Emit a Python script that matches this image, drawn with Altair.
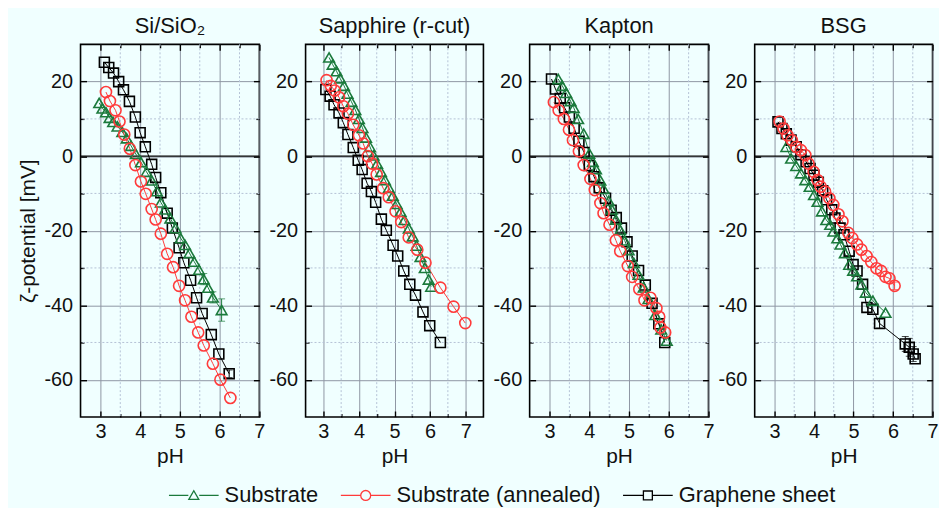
import altair as alt
import pandas as pd

FONT = "Liberation Sans"

PANEL_TITLES = ["Si/SiO₂", "Sapphire (r-cut)", "Kapton", "BSG"]
PANEL_XMAX = [7.0, 7.5, 7.0, 7.0]
PANEL_WIDTH = [180, 179, 180, 179]
SERIES = ["Substrate", "Substrate (annealed)", "Graphene sheet"]
COLORS = ["#1b7a3c", "#ff3b3b", "#000000"]
SHAPES = ["triangle-up", "circle", "square"]
SIZES = [115, 125, 100]
LEGEND_PATHS = [
    "M-5,0H-1.1M1.1,0H5M-1,0.8L0,-0.95L1,0.8Z",
    "M-5,0H-1M1,0H5M1,0A1,1 0 1,1 -1,0A1,1 0 1,1 1,0Z",
    "M-5,0H-0.9M0.9,0H5M-0.9,-0.9H0.9V0.9H-0.9Z",
]

X_TICKS = [3, 4, 5, 6, 7]
X_MINOR = [3.5, 4.5, 5.5, 6.5]
Y_TICKS = [20, 0, -20, -40, -60]
Y_MINOR = [10, -10, -30, -50]
ZERO = [0]

# ---------------- Si/SiO2 ----------------
si_sub_ph = [2.97, 3.05, 3.14, 3.23, 3.32, 3.43, 3.55, 3.66, 3.77, 3.89, 4.02, 4.16, 4.29, 4.42,
             4.52, 4.63, 4.76, 4.89, 5.02, 5.13, 5.24, 5.36, 5.48, 5.60, 5.71, 5.83, 6.05]
si_sub_z = [14.3, 12.8, 11.8, 10.3, 9.2, 8.0, 6.5, 4.8, 2.8, 0.6, -1.6, -4.2, -6.5, -9.4,
            -12.4, -14.3, -16.7, -19.3, -22.0, -23.8, -26.0, -28.3, -30.5, -33.0, -35.3, -37.9, -41.3]
si_ann_ph = [3.14, 3.24, 3.38, 3.48, 3.60, 3.74, 3.88, 4.02, 4.14, 4.29, 4.39, 4.52, 4.68, 4.83,
             4.98, 5.13, 5.29, 5.46, 5.60, 5.83, 6.02, 6.27]
si_ann_z = [17.2, 14.8, 12.3, 9.3, 5.8, 2.0, -2.4, -6.8, -10.1, -14.2, -17.0, -20.8, -26.2, -29.8,
            -34.8, -38.7, -43.1, -47.3, -50.8, -55.7, -60.0, -64.9]
si_gr_ph = [3.10, 3.21, 3.33, 3.46, 3.58, 3.73, 3.88, 4.00, 4.13, 4.29, 4.39, 4.52, 4.68, 4.81,
            4.98, 5.10, 5.27, 5.42, 5.56, 5.79, 5.98, 6.24]
si_gr_z = [25.2, 23.8, 22.3, 20.0, 17.8, 14.7, 10.5, 6.3, 2.5, -2.2, -5.7, -9.8, -15.3, -19.3,
           -24.6, -28.6, -33.3, -38.0, -42.2, -47.9, -53.1, -58.4]

# ---------------- Sapphire (r-cut) ----------------
sap_sub_ph = [3.16, 3.26, 3.37, 3.47, 3.58, 3.68, 3.79, 3.90, 4.00, 4.10, 4.20, 4.31, 4.41, 4.51,
              4.62, 4.73, 4.84, 4.95, 5.06, 5.17, 5.28, 5.40, 5.51, 5.62, 5.73, 5.85, 5.96, 6.03]
sap_sub_z = [26.5, 24.6, 22.8, 20.9, 18.9, 16.8, 14.6, 12.4, 10.0, 7.6, 5.0, 2.5, 0.2, -2.0,
             -4.2, -6.4, -8.5, -10.6, -12.8, -14.9, -17.1, -19.4, -21.5, -24.0, -27.0, -30.0, -33.1, -35.0]
sap_ann_ph = [3.09, 3.21, 3.32, 3.44, 3.56, 3.69, 3.84, 4.00, 4.12, 4.25, 4.37, 4.50, 4.68, 4.84,
              5.03, 5.19, 5.40, 5.64, 5.87, 6.29, 6.66, 6.99]
sap_ann_z = [20.4, 18.9, 17.6, 15.8, 13.4, 11.4, 8.4, 5.6, 3.4, 0.0, -2.0, -4.9, -8.6, -11.0,
             -14.8, -17.7, -21.8, -25.1, -28.6, -35.3, -40.4, -44.8]
sap_gr_ph = [3.07, 3.19, 3.30, 3.44, 3.56, 3.69, 3.84, 3.98, 4.09, 4.23, 4.35, 4.47, 4.63, 4.77,
             4.96, 5.09, 5.26, 5.43, 5.59, 5.80, 5.99, 6.29]
sap_gr_z = [17.9, 16.1, 13.8, 11.6, 9.0, 5.8, 2.3, -1.1, -3.6, -7.3, -9.5, -12.4, -16.9, -19.9,
            -23.9, -26.8, -30.8, -34.4, -37.3, -41.8, -45.5, -50.0]

# ---------------- Kapton ----------------
kap_sub_ph = [3.22, 3.32, 3.42, 3.53, 3.61, 3.72, 3.86, 4.00, 4.09, 4.17, 4.28, 4.36, 4.49, 4.57,
              4.67, 4.78, 4.89, 4.99, 5.12, 5.24, 5.37, 5.49, 5.66, 5.81, 5.95]
kap_sub_z = [20.7, 18.9, 17.0, 14.8, 13.0, 10.0, 6.0, 0.7, -1.5, -3.5, -6.5, -8.8, -12.0, -14.3,
             -17.0, -19.8, -22.6, -25.2, -28.6, -31.8, -35.2, -38.3, -42.6, -46.5, -49.5]
kap_ann_ph = [3.11, 3.23, 3.36, 3.49, 3.59, 3.74, 3.86, 4.03, 4.14, 4.28, 4.36, 4.51, 4.67, 4.78,
              4.97, 5.08, 5.26, 5.39, 5.54, 5.69, 5.76, 5.79, 5.91]
kap_ann_z = [14.5, 12.3, 10.0, 7.1, 4.3, 1.3, -2.4, -6.1, -9.1, -12.6, -15.3, -18.4, -22.6, -25.5,
             -29.5, -32.4, -35.7, -38.7, -38.0, -40.8, -43.1, -46.0, -47.3]
kap_gr_ph = [3.05, 3.15, 3.27, 3.38, 3.50, 3.62, 3.74, 3.87, 4.00, 4.12, 4.25, 4.41, 4.55, 4.68,
             4.81, 4.95, 5.08, 5.24, 5.41, 5.58, 5.75, 5.90]
kap_gr_z = [20.7, 18.0, 15.5, 13.0, 10.5, 7.5, 4.0, 1.0, -2.5, -5.5, -8.5, -11.3, -14.5, -16.5,
            -19.3, -23.0, -26.8, -30.7, -34.6, -39.5, -45.0, -50.0]

# ---------------- BSG ----------------
bsg_sub_ph = [3.30, 3.42, 3.55, 3.67, 3.78, 3.89, 4.00, 4.09, 4.20, 4.31, 4.41, 4.49, 4.59, 4.67,
              4.78, 4.89, 4.99, 5.09, 5.20, 5.31, 5.49, 5.81]
bsg_sub_z = [2.5, -0.6, -2.6, -4.6, -6.4, -8.2, -10.4, -12.2, -14.8, -17.1, -18.4, -20.2, -22.0, -23.7,
             -26.0, -29.1, -30.7, -32.2, -34.4, -36.6, -38.8, -42.0]
bsg_ann_ph = [3.13, 3.23, 3.33, 3.44, 3.55, 3.67, 3.78, 3.86, 3.99, 4.09, 4.17, 4.28, 4.39, 4.49,
              4.62, 4.72, 4.87, 4.97, 5.09, 5.20, 5.33, 5.45, 5.58, 5.70, 5.81, 5.91, 6.04]
bsg_ann_z = [9.3, 7.4, 5.6, 4.3, 2.5, 1.6, 0.3, -2.0, -4.2, -6.4, -8.2, -9.5, -11.3, -13.1,
             -15.6, -17.5, -20.6, -22.0, -23.7, -25.1, -26.8, -28.4, -30.1, -30.8, -32.4, -32.8, -34.8]
bsg_gr_ph = [3.09, 3.19, 3.30, 3.42, 3.55, 3.67, 3.80, 3.90, 4.00, 4.11, 4.22, 4.32, 4.45, 4.53,
             4.66, 4.76, 4.89, 4.99, 5.09, 5.23, 5.34, 5.49, 5.66, 6.31, 6.41, 6.51, 6.56]
bsg_gr_z = [9.2, 7.4, 6.0, 4.3, 2.5, 0.4, -1.5, -3.3, -5.1, -7.0, -9.3, -11.7, -14.4, -16.6,
            -19.3, -21.1, -25.5, -29.1, -30.8, -34.4, -40.6, -41.1, -44.9, -50.4, -51.3, -53.1, -54.4]

# ---------------- visible error bars ----------------
err_panel = ["Si/SiO₂", "Si/SiO₂", "Si/SiO₂", "Si/SiO₂", "BSG", "BSG", "BSG", "BSG", "BSG"]
err_series = ["Substrate", "Substrate", "Substrate", "Graphene sheet",
              "Graphene sheet", "Graphene sheet", "Graphene sheet", "Graphene sheet", "Substrate (annealed)"]
err_ph = [5.60, 5.83, 6.05, 6.24, 5.66, 6.31, 6.41, 6.51, 6.04]
err_z = [-33.0, -37.9, -41.3, -58.4, -44.9, -50.4, -51.3, -53.1, -34.8]
err_e = [1.5, 1.5, 3.0, 1.0, 1.2, 2.0, 2.4, 2.0, 1.0]

PANEL_DATA = [
    [(si_sub_ph, si_sub_z), (si_ann_ph, si_ann_z), (si_gr_ph, si_gr_z)],
    [(sap_sub_ph, sap_sub_z), (sap_ann_ph, sap_ann_z), (sap_gr_ph, sap_gr_z)],
    [(kap_sub_ph, kap_sub_z), (kap_ann_ph, kap_ann_z), (kap_gr_ph, kap_gr_z)],
    [(bsg_sub_ph, bsg_sub_z), (bsg_ann_ph, bsg_ann_z), (bsg_gr_ph, bsg_gr_z)],
]

rows = []
for title, series_list in zip(PANEL_TITLES, PANEL_DATA):
    for sname, (phs, zs) in zip(SERIES, series_list):
        for i, (p, z) in enumerate(zip(phs, zs)):
            rows.append({"panel": title, "series": sname, "pH": p, "zeta": z, "idx": i})
df = pd.DataFrame(rows)
err_df = pd.DataFrame({"panel": err_panel, "series": err_series, "pH": err_ph,
                       "zeta": err_z, "err": err_e})

GRID = "#8e96a3"
MINOR = "#b4c2d6"
TXT = "#111111"
LABEL_EXPR = "datum.value < 0 ? '-' + abs(datum.value) : '' + datum.value"


def tick_axis(orient, values, length):
    return alt.Axis(orient=orient, offset=-length, values=values, tickSize=length,
                    ticks=True, tickColor="#000000", tickWidth=1.4, labels=False,
                    domain=False, grid=False, title=None)


def make_panel(k):
    title = PANEL_TITLES[k]
    d = df[df.panel == title]
    e = err_df[err_df.panel == title]
    xs = alt.Scale(domain=[2.5, PANEL_XMAX[k]], nice=False, zero=False)
    ys = alt.Scale(domain=[-70, 30], nice=False, zero=False)
    xax = alt.Axis(orient="bottom", values=X_TICKS, title="pH", grid=True, ticks=False, domain=False,
                   gridColor=GRID, gridWidth=1, labelFontSize=20, titleFontSize=21,
                   labelPadding=5, titlePadding=4, labelColor=TXT, titleColor=TXT,
                   titleFontWeight="normal", labelFlush=False)
    yax_kw = dict(orient="left", values=Y_TICKS, grid=True, ticks=False, domain=False,
                  gridColor=GRID, gridWidth=1, labelFontSize=20, titleFontSize=21,
                  labelPadding=8, titlePadding=5, labelColor=TXT, titleColor=TXT,
                  titleFontWeight="normal", labelExpr=LABEL_EXPR)
    if k == 0:
        yax = alt.Axis(title="ζ-potential [mV]", **yax_kw)
    else:
        yax = alt.Axis(title=None, **yax_kw)
    Xn = alt.X("pH:Q", scale=xs, axis=None)
    Yn = alt.Y("zeta:Q", scale=ys, axis=None)

    layers = [
        alt.Chart(pd.DataFrame({"pH": X_MINOR})).mark_rule(
            color=MINOR, strokeDash=[2, 2], strokeWidth=1
        ).encode(x=alt.X("pH:Q", scale=xs, axis=xax)),
        alt.Chart(pd.DataFrame({"zeta": Y_MINOR})).mark_rule(
            color=MINOR, strokeDash=[2, 2], strokeWidth=1
        ).encode(y=alt.Y("zeta:Q", scale=ys, axis=yax)),
        alt.Chart(pd.DataFrame({"zeta": ZERO})).mark_rule(
            color="#000000", strokeWidth=1.2
        ).encode(y=Yn),
    ]
    # inward ticks on all four sides (major and minor)
    for xo, yo, xv, yv, L in [("bottom", "left", X_TICKS, Y_TICKS, 6),
                              ("bottom", "left", X_MINOR, Y_MINOR, 3.5),
                              ("top", "right", X_TICKS, Y_TICKS, 6),
                              ("top", "right", X_MINOR, Y_MINOR, 3.5)]:
        layers.append(alt.Chart(pd.DataFrame({"pH": xv, "zeta": yv})).mark_point(opacity=0).encode(
            x=alt.X("pH:Q", scale=xs, axis=tick_axis(xo, xv, L)),
            y=alt.Y("zeta:Q", scale=ys, axis=tick_axis(yo, yv, L)),
        ))
    for s, c in zip(SERIES, COLORS):
        ds = d[d.series == s]
        layers.append(alt.Chart(ds).mark_line(color=c, strokeWidth=1).encode(
            x=Xn, y=Yn, order="idx:Q"))
    for s, c in zip(SERIES, COLORS):
        es = e[e.series == s]
        if len(es) == 0:
            continue
        eb = alt.Chart(es).transform_calculate(lo="datum.zeta - datum.err", hi="datum.zeta + datum.err")
        layers.append(eb.mark_rule(color=c, strokeWidth=1).encode(
            x=Xn, y=alt.Y("lo:Q", scale=ys, axis=None), y2="hi:Q"))
        layers.append(eb.mark_tick(color=c, thickness=1, size=7, orient="horizontal").encode(
            x=Xn, y=alt.Y("lo:Q", scale=ys, axis=None)))
        layers.append(eb.mark_tick(color=c, thickness=1, size=7, orient="horizontal").encode(
            x=Xn, y=alt.Y("hi:Q", scale=ys, axis=None)))
    for s, c, sh, sz in [(SERIES[2], COLORS[2], SHAPES[2], SIZES[2]),
                         (SERIES[0], COLORS[0], SHAPES[0], SIZES[0]),
                         (SERIES[1], COLORS[1], SHAPES[1], SIZES[1])]:
        ds = d[d.series == s]
        layers.append(alt.Chart(ds).mark_point(
            shape=sh, color=c, filled=False, size=sz, strokeWidth=1.6, opacity=1
        ).encode(x=Xn, y=Yn))
    if k == 0:
        leg = alt.Legend(title=None, orient="none", legendX=103, legendY=443,
                         direction="horizontal", labelFontSize=22, labelFont=FONT,
                         labelColor=TXT, symbolSize=100, symbolStrokeWidth=1.3,
                         labelOffset=20, columnPadding=19, symbolOpacity=1, labelLimit=500)
        layers.append(alt.Chart(d).transform_filter("false").mark_point(filled=False).encode(
            color=alt.Color("series:N", scale=alt.Scale(domain=SERIES, range=COLORS), legend=leg),
            shape=alt.Shape("series:N", scale=alt.Scale(domain=SERIES, range=LEGEND_PATHS), legend=leg),
        ))
    return alt.layer(*layers).resolve_axis(x="independent", y="independent").properties(
        width=PANEL_WIDTH[k], height=375,
        title=alt.TitleParams(text=title, fontSize=22, font=FONT, fontWeight="normal",
                              color=TXT, offset=6),
    )


chart = alt.hconcat(*[make_panel(k) for k in range(4)], spacing=46.5, bounds="flush").properties(
    background="#f0ffff",
    padding={"left": 9, "top": 4, "right": 0, "bottom": 0},
).configure(font=FONT).configure_view(stroke="#000000", strokeWidth=1.6).configure_axis(
    labelFont=FONT, titleFont=FONT
)

chart.save("out.html", embed_options={"renderer": "svg", "actions": False})
